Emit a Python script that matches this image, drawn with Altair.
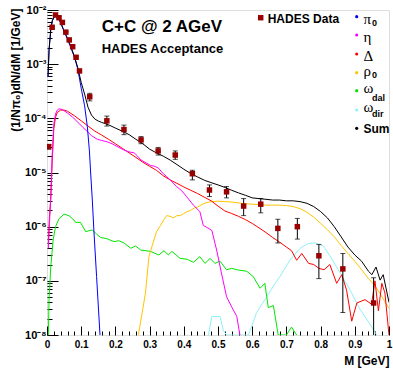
import altair as alt
import pandas as pd

FONT = "Liberation Sans"
GREEK = "Liberation Serif"

# ---------------- data ----------------
pi0_m = [0.003, 0.006, 0.011, 0.0155, 0.023, 0.03, 0.04, 0.05, 0.06, 0.07, 0.08, 0.09,
         0.1, 0.11, 0.118, 0.124, 0.128, 0.1325, 0.137, 0.145, 0.155]
pi0_v = [5.8e-4, 1.8e-3, 4.3e-3, 6.3e-3, 7.85e-3, 7.5e-3, 5.8e-3, 4.0e-3, 2.9e-3, 2.0e-3, 1.35e-3, 8.2e-4,
         3.6e-4, 1.7e-4, 7e-5, 2.5e-5, 9e-6, 3.1e-6, 8.7e-7, 1.2e-7, 1e-8]

eta_m = [0.004, 0.008, 0.011, 0.015, 0.02, 0.025, 0.03, 0.035, 0.045, 0.06, 0.075, 0.09, 0.105, 0.118,
         0.13, 0.147, 0.16, 0.175, 0.19, 0.21, 0.225, 0.24, 0.255, 0.265, 0.275, 0.29, 0.303, 0.315,
         0.326, 0.34, 0.35, 0.365, 0.379, 0.394, 0.408, 0.428, 0.447, 0.457, 0.47, 0.482, 0.496, 0.51,
         0.525, 0.54, 0.555, 0.564]
eta_v = [4e-7, 1.5e-6, 3.5e-6, 2.0e-5, 8.0e-5, 1.2e-4, 1.42e-4, 1.5e-4, 1.45e-4, 1.25e-4, 1.05e-4, 8.5e-5,
         6.8e-5, 5.7e-5, 4.8e-5, 4.1e-5, 3.9e-5, 3.7e-5, 3.4e-5, 2.9e-5, 2.6e-5, 2.4e-5, 2.3e-5, 2.0e-5,
         1.7e-5, 1.5e-5, 1.35e-5, 1.3e-5, 1.2e-5, 9.5e-6, 8.4e-6, 6.8e-6, 5.5e-6, 4.6e-6, 3.6e-6, 2.5e-6,
         1.9e-6, 1.05e-6, 9.5e-7, 8.5e-7, 3.7e-7, 1.4e-7, 5.1e-8, 3.3e-8, 2.2e-8, 1e-8]

delta_m = [0.004, 0.007, 0.011, 0.015, 0.02, 0.025, 0.03, 0.04, 0.05, 0.06, 0.08, 0.1, 0.12, 0.14,
           0.16, 0.18, 0.2, 0.22, 0.24, 0.26, 0.28, 0.3, 0.32, 0.34, 0.36, 0.38, 0.4, 0.42, 0.44,
           0.46, 0.48, 0.5, 0.52, 0.54, 0.56, 0.58, 0.6, 0.62, 0.64, 0.66, 0.68, 0.7, 0.715, 0.73,
           0.745, 0.765, 0.78, 0.795, 0.81, 0.827, 0.847, 0.862, 0.876, 0.891, 0.906, 0.93, 0.949,
           0.959, 0.969, 0.979, 0.988, 1.0]
delta_v = [5e-7, 1.5e-6, 3.2e-6, 1.5e-5, 6.5e-5, 1.05e-4, 1.28e-4, 1.42e-4, 1.42e-4, 1.35e-4, 1.12e-4,
           9.0e-5, 7.2e-5, 5.8e-5, 4.9e-5, 4.1e-5, 3.4e-5, 2.8e-5, 2.3e-5, 1.9e-5, 1.55e-5, 1.3e-5,
           1.1e-5, 8.7e-6, 7.3e-6, 6.3e-6, 5.4e-6, 4.7e-6, 4.1e-6, 3.5e-6, 3.0e-6, 2.4e-6, 1.95e-6,
           1.75e-6, 1.55e-6, 1.35e-6, 1.15e-6, 9.5e-7, 7.8e-7, 6.3e-7, 5.2e-7, 4.2e-7, 3.6e-7, 2.4e-7,
           3.2e-7, 2.1e-7, 2.0e-7, 1.7e-7, 1.6e-7, 2.0e-7, 9e-8, 1.3e-7, 6.7e-8, 1.8e-8, 3.9e-8, 4.5e-8,
           3.7e-8, 1.0e-7, 2.8e-8, 9e-8, 6e-8, 1e-8]

rho_m = [0.267, 0.278, 0.288, 0.298, 0.31, 0.32, 0.332, 0.342, 0.35, 0.36, 0.37, 0.38, 0.39, 0.4,
         0.41, 0.42, 0.43, 0.44, 0.45, 0.46, 0.48, 0.5, 0.52, 0.54, 0.56, 0.58, 0.6, 0.62, 0.64,
         0.66, 0.68, 0.7, 0.72, 0.74, 0.76, 0.78, 0.8, 0.82, 0.84, 0.86, 0.88, 0.9, 0.92, 0.94,
         0.96, 0.98, 1.0]
rho_v = [1e-8, 2.5e-8, 6e-8, 2.8e-7, 5e-7, 8e-7, 1.05e-6, 1.35e-6, 1.6e-6, 1.55e-6, 1.45e-6, 1.6e-6,
         1.6e-6, 1.75e-6, 1.9e-6, 2.0e-6, 2.2e-6, 2.3e-6, 2.5e-6, 2.7e-6, 2.9e-6, 2.95e-6, 2.9e-6,
         2.85e-6, 2.75e-6, 2.65e-6, 2.6e-6, 2.55e-6, 2.5e-6, 2.5e-6, 2.5e-6, 2.45e-6, 2.35e-6, 2.15e-6,
         1.85e-6, 1.5e-6, 1.15e-6, 8.8e-7, 6.5e-7, 4.5e-7, 3.2e-7, 2.3e-7, 1.6e-7, 1.1e-7, 8e-8,
         5e-8, 3.1e-8]

wdal_m = [0.004, 0.006, 0.011, 0.018, 0.025, 0.035, 0.05, 0.064, 0.075, 0.084, 0.098, 0.113, 0.132,
          0.145, 0.157, 0.175, 0.196, 0.21, 0.225, 0.245, 0.259, 0.274, 0.303, 0.327, 0.342, 0.355,
          0.365, 0.389, 0.41, 0.428, 0.447, 0.462, 0.477, 0.491, 0.506, 0.525, 0.54, 0.555, 0.584,
          0.603, 0.623, 0.637, 0.647, 0.662, 0.676, 0.7, 0.715, 0.73]
wdal_v = [1e-8, 4.5e-8, 1.8e-7, 5.7e-7, 1.0e-6, 1.4e-6, 1.7e-6, 1.6e-6, 1.4e-6, 1.2e-6, 1.2e-6, 8.1e-7,
          8.7e-7, 7.3e-7, 6.3e-7, 6.0e-7, 5.3e-7, 5.5e-7, 5.0e-7, 4.0e-7, 4.4e-7, 3.7e-7, 3.5e-7,
          3.0e-7, 3.6e-7, 3.0e-7, 3.5e-7, 2.6e-7, 2.5e-7, 2.2e-7, 2.8e-7, 2.1e-7, 2.6e-7, 2.1e-7,
          2.3e-7, 1.6e-7, 1.7e-7, 1.6e-7, 1.5e-7, 1.2e-7, 7.3e-8, 9e-8, 3.2e-8, 3.5e-8, 1e-8, 1e-8,
          1.4e-8, 1e-8]

wdir_m = [0.472, 0.482, 0.506, 0.516, 0.525, 0.589, 0.613, 0.642, 0.667, 0.681, 0.71, 0.74, 0.764,
          0.785, 0.808, 0.827, 0.857, 0.886, 0.915, 0.944, 0.964]
wdir_v = [1e-8, 2.2e-8, 2.2e-8, 1.2e-8, 1e-8, 1e-8, 2.6e-8, 5e-8, 9e-8, 1.2e-7, 2.4e-7, 4e-7, 4.9e-7,
          5e-7, 4.4e-7, 2.9e-7, 1.4e-7, 6.8e-8, 3.0e-8, 1.6e-8, 1e-8]

sum_m = [0.003, 0.006, 0.011, 0.0155, 0.023, 0.03, 0.04, 0.05, 0.06, 0.07, 0.08, 0.09, 0.1, 0.11,
         0.12, 0.13, 0.14, 0.15, 0.16, 0.18, 0.2, 0.22, 0.24, 0.26, 0.28, 0.3, 0.32, 0.34, 0.36,
         0.38, 0.4, 0.42, 0.44, 0.46, 0.48, 0.5, 0.52, 0.54, 0.56, 0.58, 0.6, 0.62, 0.64, 0.66,
         0.68, 0.7, 0.72, 0.74, 0.76, 0.78, 0.8, 0.82, 0.84, 0.86, 0.88, 0.9, 0.92, 0.94, 0.95,
         0.962, 0.974, 0.983, 1.0]
sum_v = [6e-4, 1.85e-3, 4.4e-3, 6.4e-3, 7.9e-3, 7.6e-3, 5.9e-3, 4.1e-3, 3.0e-3, 2.1e-3, 1.4e-3,
         8.6e-4, 4.6e-4, 2.8e-4, 1.6e-4, 1.15e-4, 9.7e-5, 8.9e-5, 8.4e-5, 7.6e-5, 6.6e-5, 5.8e-5,
         5.0e-5, 4.1e-5, 3.4e-5, 2.7e-5, 2.3e-5, 2.0e-5, 1.7e-5, 1.4e-5, 1.15e-5, 9.6e-6, 8.3e-6,
         7.2e-6, 6.5e-6, 5.9e-6, 5.3e-6, 4.7e-6, 4.2e-6, 3.8e-6, 3.4e-6, 3.3e-6, 3.2e-6, 3.1e-6,
         3.1e-6, 3.0e-6, 3.0e-6, 2.9e-6, 2.7e-6, 2.35e-6, 1.9e-6, 1.45e-6, 1.0e-6, 6.5e-7, 4.2e-7,
         3.0e-7, 2.3e-7, 1.5e-7, 1.3e-7, 1.8e-7, 1.03e-7, 1.3e-7, 4e-8]

data_m = [0.005, 0.015, 0.025, 0.035, 0.045, 0.055, 0.065, 0.075, 0.085, 0.095, 0.125, 0.175, 0.225,
          0.275, 0.325, 0.375, 0.425, 0.475, 0.525, 0.575, 0.625, 0.675, 0.732, 0.795, 0.865, 0.955]
data_v = [3.0e-5, 4.8e-3, 8.1e-3, 7.2e-3, 5.9e-3, 3.9e-3, 2.8e-3, 2.1e-3, 1.34e-3, 7.5e-4, 2.5e-4,
          9.0e-5, 6.2e-5, 4.0e-5, 2.5e-5, 2.1e-5, 9.5e-6, 4.75e-6, 4.4e-6, 2.4e-6, 2.6e-6, 9.3e-7,
          1.0e-6, 2.9e-7, 1.66e-7, 3.9e-8]
data_lo = [2.7e-5, 4.6e-3, 7.8e-3, 6.9e-3, 5.7e-3, 3.75e-3, 2.7e-3, 2.0e-3, 1.28e-3, 7.1e-4, 2.1e-4,
           7.2e-5, 5.0e-5, 3.4e-5, 2.1e-5, 1.75e-5, 7.3e-6, 3.6e-6, 3.4e-6, 1.6e-6, 1.8e-6, 5.0e-7,
           5.9e-7, 1.1e-7, 2.6e-8, 1e-9]
data_hi = [3.3e-5, 5.0e-3, 8.4e-3, 7.5e-3, 6.1e-3, 4.05e-3, 2.9e-3, 2.2e-3, 1.4e-3, 7.9e-4, 2.9e-4,
           1.1e-4, 7.5e-5, 4.6e-5, 2.9e-5, 2.5e-5, 1.1e-5, 5.9e-6, 5.5e-6, 3.3e-6, 3.3e-6, 1.37e-6,
           1.42e-6, 4.7e-7, 3.2e-7, 1.14e-7]

series = [
    ("ω_dir", wdir_m, wdir_v, "#8ff0f5"),
    ("ω_dal", wdal_m, wdal_v, "#00e600"),
    ("ρ0", rho_m, rho_v, "#ffc400"),
    ("Δ", delta_m, delta_v, "#ff0000"),
    ("η", eta_m, eta_v, "#ff00ff"),
    ("π0", pi0_m, pi0_v, "#0000ff"),
    ("Sum", sum_m, sum_v, "#000000"),
]

W, H = 342, 325
XS = alt.Scale(domain=[0, 1], nice=False, zero=False)
YS = alt.Scale(type="log", domain=[1e-8, 1e-2], nice=False)

x_major = [i / 10 for i in range(11)]
x_minor = [i / 50 for i in range(51) if i % 5 != 0]
y_major = [10.0 ** e for e in range(-8, -1)]
y_minor = [k * 10.0 ** e for e in range(-8, -2) for k in range(2, 10)]

sup = {-8: "⁻⁸", -7: "⁻⁷", -6: "⁻⁶", -5: "⁻⁵", -4: "⁻⁴", -3: "⁻³", -2: "⁻²"}
expo = "round(log(datum.value)/LN10)"
label_expr = ""
for e in range(-8, -2):
    label_expr += f"{expo} == {e} ? '10{sup[e]}' : "
label_expr += f"'10{sup[-2]}'"

pts = pd.DataFrame({"m": data_m, "v": data_v, "lo": data_lo, "hi": data_hi})
one = pd.DataFrame({"a": [0]})

layers = []

# main labelled axes (carried by an invisible layer)
layers.append(
    alt.Chart(pts).mark_point(opacity=0).encode(
        x=alt.X("m:Q", scale=XS, axis=alt.Axis(
            orient="bottom", values=x_major, format=".1~f", ticks=False, tickSize=0,
            domain=False, grid=False, labelFont=FONT, labelFontWeight="bold", labelFontSize=10,
            labelColor="black", labelPadding=4, labelFlush=False, labelOverlap=False,
            title="M [GeV]", titleFont=FONT, titleFontWeight="bold", titleFontSize=12,
            titleColor="black", titleX=W, titleY=29, titleAlign="right",
            titleBaseline="alphabetic")),
        y=alt.Y("v:Q", scale=YS, axis=alt.Axis(
            orient="left", values=y_major, labelExpr=label_expr, ticks=False, tickSize=0,
            domain=False, grid=False, labelFont=FONT, labelFontWeight="bold", labelFontSize=11,
            labelColor="black", labelPadding=1, labelFlush=False, labelOverlap=False,
            title="(1/Nπ₀)dN/dM [1/GeV]", titleFont=FONT, titleFontWeight="bold",
            titleFontSize=12, titleColor="black", titleX=-32, titleY=-2, titleAngle=270,
            titleAlign="right", titleBaseline="middle")),
    )
)

# inward tick marks (axes placed on the opposite edge with negative offset)
def tick_layer(xvals=None, yvals=None, size=5):
    if xvals is not None:
        xa = alt.Axis(orient="top", offset=-H, values=xvals, labels=False, domain=False,
                      grid=False, ticks=True, tickSize=size, tickColor="black", tickWidth=1,
                      title=None)
        ya = None
    else:
        ya = alt.Axis(orient="right", offset=-W, values=yvals, labels=False, domain=False,
                      grid=False, ticks=True, tickSize=size, tickColor="black", tickWidth=1,
                      title=None)
        xa = None
    return alt.Chart(pts).mark_point(opacity=0).encode(
        x=alt.X("m:Q", scale=XS, axis=xa),
        y=alt.Y("v:Q", scale=YS, axis=ya),
    )

layers.append(tick_layer(xvals=x_major, size=9))
layers.append(tick_layer(xvals=x_minor, size=4))
layers.append(tick_layer(yvals=y_major, size=11))
layers.append(tick_layer(yvals=y_minor, size=5))

# model curves
for name, ms, vs, col in series:
    d = pd.DataFrame({"m": ms, "v": vs})
    layers.append(
        alt.Chart(d).mark_line(color=col, strokeWidth=1, clip=True).encode(
            x=alt.X("m:Q", scale=XS, axis=None),
            y=alt.Y("v:Q", scale=YS, axis=None),
        )
    )

# data with error bars
X = alt.X("m:Q", scale=XS, axis=None)
layers.append(alt.Chart(pts).mark_rule(color="black", strokeWidth=1, clip=True).encode(
    x=X, y=alt.Y("lo:Q", scale=YS, axis=None), y2="hi:Q"))
for f in ["lo", "hi"]:
    layers.append(alt.Chart(pts).mark_tick(color="black", orient="horizontal", size=5,
                                           thickness=1, clip=True).encode(
        x=X, y=alt.Y(f"{f}:Q", scale=YS, axis=None)))
layers.append(alt.Chart(pts).mark_square(color="#990000", size=30, opacity=1, clip=True).encode(
    x=X, y=alt.Y("v:Q", scale=YS, axis=None)))

# annotations
def txt(s, x, y, size, font=FONT, weight="bold", color="black"):
    return alt.Chart(one).mark_text(text=s, font=font, fontSize=size, fontWeight=weight,
                                    color=color, align="left", baseline="alphabetic").encode(
        x=alt.value(x), y=alt.value(y))

OX, OY = 47, 10
layers.append(txt("C+C @ 2 AGeV", 101.7 - OX, 31.7 - OY, 17))
layers.append(txt("HADES Acceptance", 101.7 - OX, 53.3 - OY, 13))

# legend
layers.append(alt.Chart(one).mark_square(color="#990000", size=30, opacity=1).encode(
    x=alt.value(260.7 - OX), y=alt.value(17.7 - OY)))
layers.append(txt("HADES Data", 267.7 - OX, 22.7 - OY, 12))

legend_rows = [
    # main, sub, colour, dot y, main baseline, sub baseline
    ("π", "0", "#0000ff", 16.7, 24.0, 25.5),
    ("η", "", "#ff00ff", 35.0, 42.0, 0),
    ("Δ", "", "#ff0000", 54.0, 60.7, 0),
    ("ρ", "0", "#ffc400", 72.7, 76.0, 78.0),
    ("ω", "dal", "#00e600", 90.7, 92.7, 100.5),
    ("ω", "dir", "#8ff0f5", 110.0, 111.7, 116.7),
    ("Sum", "", "#000000", 128.3, 133.0, 0),
]
for main, sub, col, dy, by, sy in legend_rows:
    layers.append(alt.Chart(one).mark_circle(color=col, size=10, opacity=1).encode(
        x=alt.value(356.7 - OX), y=alt.value(dy - OY)))
    if main == "Sum":
        layers.append(txt(main, 363.5 - OX, by - OY, 12))
    else:
        layers.append(txt(main, 363.5 - OX, by - OY, 15, font=GREEK, weight="normal"))
    if sub:
        layers.append(txt(sub, 372 - OX, sy - OY, 9))

chart = alt.layer(*layers).resolve_axis(x="independent", y="independent").properties(
    width=W, height=H,
    padding={"left": 47, "top": 10, "right": 4, "bottom": 33},
    autosize=alt.AutoSizeParams(type="none"),
).configure_view(stroke="black", strokeWidth=1).configure(background="white")

chart.save("out.html", embed_options={"renderer": "svg", "actions": False})
